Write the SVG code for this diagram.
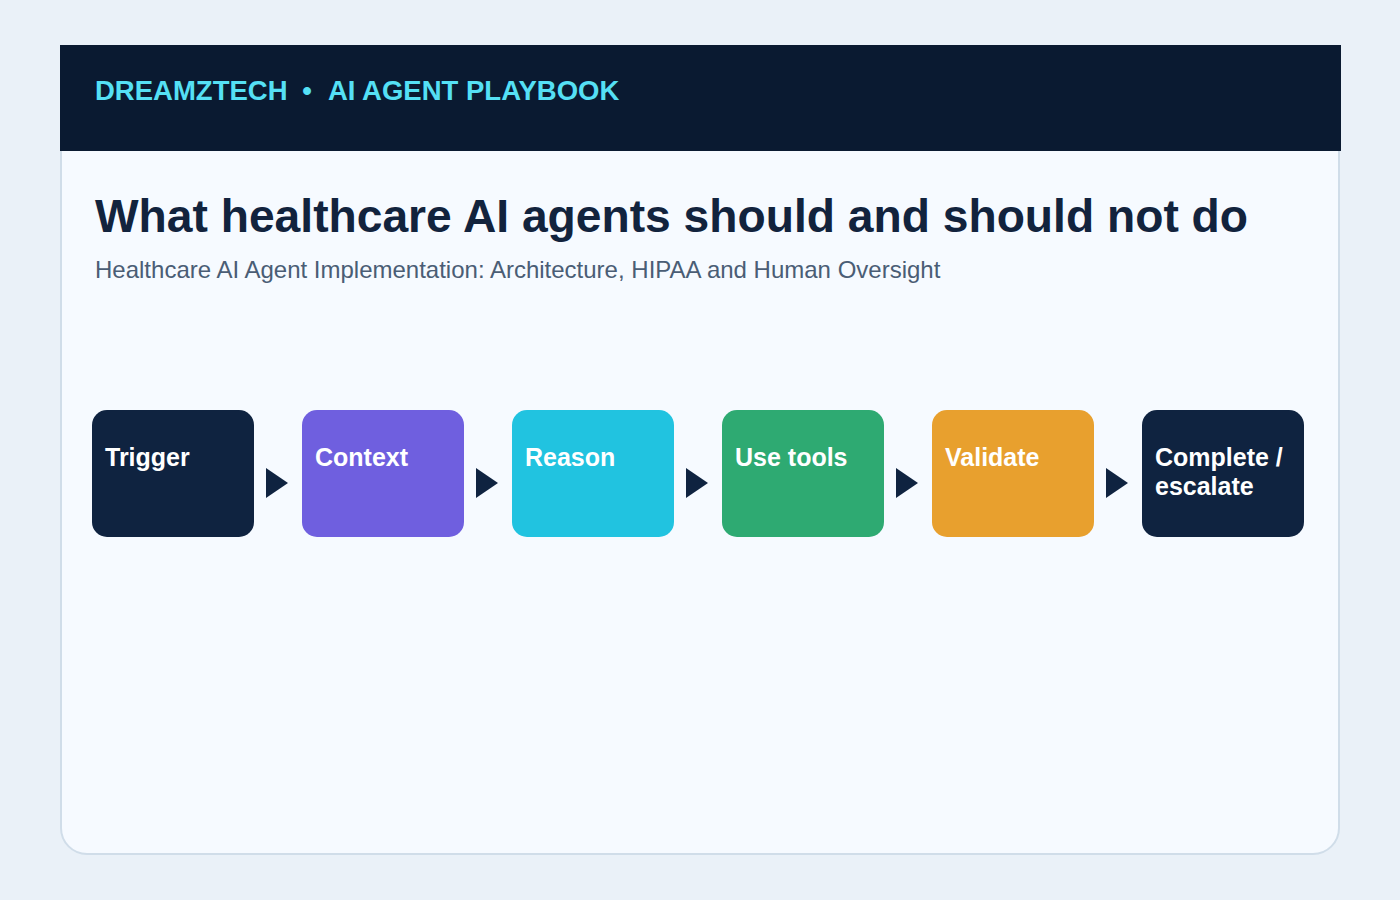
<svg xmlns="http://www.w3.org/2000/svg" width="1400" height="900" viewBox="0 0 1400 900">
<defs>
<style>
.node-label{font-family:"Liberation Sans",Arial,sans-serif;font-weight:bold;font-size:25px;fill:#ffffff}
.hdr{font-family:"Liberation Sans",Arial,sans-serif;font-weight:bold;font-size:27.5px;fill:#55e0f5}
.arrow{fill:#0f2340}
</style>
</defs>
<rect x="0" y="0" width="1400" height="900" fill="#eaf1f8"/>
<rect x="61" y="46" width="1278" height="808" rx="26" ry="26" fill="#f6faff" stroke="#d0dde9" stroke-width="2"/>
<rect x="60" y="45" width="1281" height="106" fill="#0a1a31"/>
<text class="hdr" x="95" y="100">DREAMZTECH</text>
<text class="hdr" x="307" y="100" text-anchor="middle">•</text>
<text class="hdr" x="328" y="100">AI AGENT PLAYBOOK</text>
<text x="95" y="232" font-family="'Liberation Sans',Arial,sans-serif" font-weight="bold" font-size="46.2" fill="#12233d">What healthcare AI agents should and should not do</text>
<text x="95" y="278" font-family="'Liberation Sans',Arial,sans-serif" font-size="24" fill="#4a5d75">Healthcare AI Agent Implementation: Architecture, HIPAA and Human Oversight</text>
<g id="connectors">
<polygon class="arrow" points="266,468 288,483 266,498"/>
<polygon class="arrow" points="476,468 498,483 476,498"/>
<polygon class="arrow" points="686,468 708,483 686,498"/>
<polygon class="arrow" points="896,468 918,483 896,498"/>
<polygon class="arrow" points="1106,468 1128,483 1106,498"/>
</g>
<g id="node-trigger"><rect x="92" y="410" width="162" height="127" rx="15" fill="#0f2340"/><text class="node-label" x="105" y="466">Trigger</text></g>
<g id="node-context"><rect x="302" y="410" width="162" height="127" rx="15" fill="#6f5fdf"/><text class="node-label" x="315" y="466">Context</text></g>
<g id="node-reason"><rect x="512" y="410" width="162" height="127" rx="15" fill="#21c3e0"/><text class="node-label" x="525" y="466">Reason</text></g>
<g id="node-tools"><rect x="722" y="410" width="162" height="127" rx="15" fill="#2eaa72"/><text class="node-label" x="735" y="466">Use tools</text></g>
<g id="node-validate"><rect x="932" y="410" width="162" height="127" rx="15" fill="#e8a02e"/><text class="node-label" x="945" y="466">Validate</text></g>
<g id="node-complete"><rect x="1142" y="410" width="162" height="127" rx="15" fill="#0f2340"/><text class="node-label" x="1155" y="466">Complete /</text><text class="node-label" x="1155" y="495">escalate</text></g>
</svg>
